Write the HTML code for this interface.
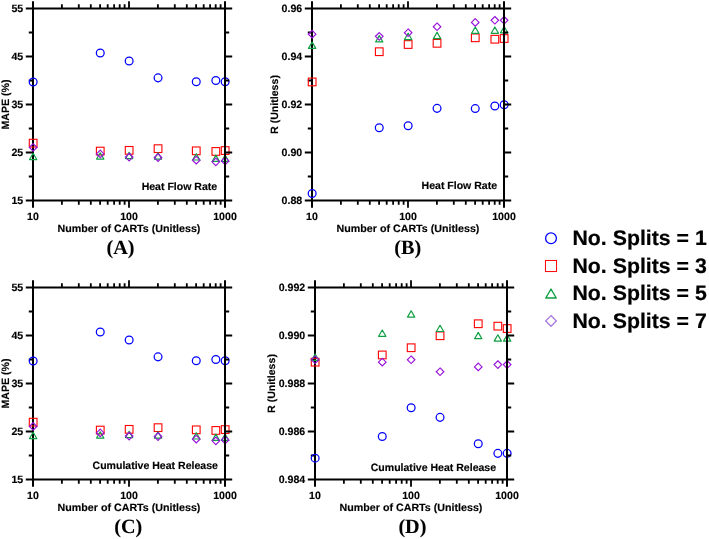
<!DOCTYPE html>
<html><head><meta charset="utf-8"><title>Figure</title>
<style>
html,body{margin:0;padding:0;background:#fff;}
svg{display:block;}
text{font-family:"Liberation Sans",sans-serif;font-weight:bold;fill:#000;text-rendering:geometricPrecision;}
.t{font-size:10.6px;stroke:#000;stroke-width:0.15px;}
.lg{font-size:21.1px;stroke:#000;stroke-width:0.2px;}
.pl{font-family:"Liberation Serif",serif;font-size:20.2px;stroke:#000;stroke-width:0.08px;}
.ax{stroke:#000;stroke-width:2;fill:none;stroke-linecap:butt;}
.tk{stroke:#000;stroke-width:1.8;fill:none;}
.m{fill:none;stroke-width:1.25;}
</style></head><body>
<svg width="709" height="539" viewBox="0 0 709 539">
<rect width="709" height="539" fill="#fff"/>
<path class="ax" d="M33 1.2999999999999998V207.7"/>
<path class="tk" d="M33 32.50h-4.2M33 56.50h-7.2M33 80.50h-4.2M33 104.50h-7.2M33 128.50h-4.2M33 152.50h-7.2M33 176.50h-4.2"/>
<circle class="m" cx="33.15" cy="81.95" r="3.90" stroke="#0000ff" style="stroke-width:1.25"/>
<circle class="m" cx="100.25" cy="53.05" r="3.90" stroke="#0000ff" style="stroke-width:1.25"/>
<circle class="m" cx="129.15" cy="61.07" r="3.90" stroke="#0000ff" style="stroke-width:1.25"/>
<circle class="m" cx="158.05" cy="77.87" r="3.90" stroke="#0000ff" style="stroke-width:1.25"/>
<circle class="m" cx="196.25" cy="81.71" r="3.90" stroke="#0000ff" style="stroke-width:1.25"/>
<circle class="m" cx="215.85" cy="80.56" r="3.90" stroke="#0000ff" style="stroke-width:1.25"/>
<circle class="m" cx="225.15" cy="81.71" r="3.90" stroke="#0000ff" style="stroke-width:1.25"/>
<rect class="m" x="29.30" y="139.30" width="7.70" height="7.70" stroke="#ff0000" style="stroke-width:1.1"/>
<rect class="m" x="96.40" y="147.22" width="7.70" height="7.70" stroke="#ff0000" style="stroke-width:1.1"/>
<rect class="m" x="125.30" y="146.50" width="7.70" height="7.70" stroke="#ff0000" style="stroke-width:1.1"/>
<rect class="m" x="154.20" y="144.82" width="7.70" height="7.70" stroke="#ff0000" style="stroke-width:1.1"/>
<rect class="m" x="192.40" y="146.98" width="7.70" height="7.70" stroke="#ff0000" style="stroke-width:1.1"/>
<rect class="m" x="212.00" y="147.60" width="7.70" height="7.70" stroke="#ff0000" style="stroke-width:1.1"/>
<rect class="m" x="221.30" y="146.74" width="7.70" height="7.70" stroke="#ff0000" style="stroke-width:1.1"/>
<path class="m" d="M33.15 153.24L36.80 159.54L29.50 159.54Z" stroke="#0f9f42" stroke-linejoin="round" style="stroke-width:1.2"/>
<path class="m" d="M100.25 152.76L103.90 159.06L96.60 159.06Z" stroke="#0f9f42" stroke-linejoin="round" style="stroke-width:1.2"/>
<path class="m" d="M129.15 152.28L132.80 158.58L125.50 158.58Z" stroke="#0f9f42" stroke-linejoin="round" style="stroke-width:1.2"/>
<path class="m" d="M158.05 152.76L161.70 159.06L154.40 159.06Z" stroke="#0f9f42" stroke-linejoin="round" style="stroke-width:1.2"/>
<path class="m" d="M196.25 153.72L199.90 160.02L192.60 160.02Z" stroke="#0f9f42" stroke-linejoin="round" style="stroke-width:1.2"/>
<path class="m" d="M215.85 155.16L219.50 161.46L212.20 161.46Z" stroke="#0f9f42" stroke-linejoin="round" style="stroke-width:1.2"/>
<path class="m" d="M225.15 155.16L228.80 161.46L221.50 161.46Z" stroke="#0f9f42" stroke-linejoin="round" style="stroke-width:1.2"/>
<path class="m" d="M33.15 143.68L36.94 147.47L33.15 151.26L29.36 147.47Z" stroke="#9710da" style="stroke-width:1.15"/>
<path class="m" d="M100.25 150.16L104.04 153.95L100.25 157.74L96.46 153.95Z" stroke="#9710da" style="stroke-width:1.15"/>
<path class="m" d="M129.15 153.28L132.94 157.07L129.15 160.86L125.36 157.07Z" stroke="#9710da" style="stroke-width:1.15"/>
<path class="m" d="M158.05 153.76L161.84 157.55L158.05 161.34L154.26 157.55Z" stroke="#9710da" style="stroke-width:1.15"/>
<path class="m" d="M196.25 156.40L200.04 160.19L196.25 163.98L192.46 160.19Z" stroke="#9710da" style="stroke-width:1.15"/>
<path class="m" d="M215.85 158.08L219.63 161.87L215.85 165.66L212.06 161.87Z" stroke="#9710da" style="stroke-width:1.15"/>
<path class="m" d="M225.15 157.12L228.94 160.91L225.15 164.70L221.36 160.91Z" stroke="#9710da" style="stroke-width:1.15"/>
<path class="ax" d="M225 1.2999999999999998V207.7M25.8 8.5H232.2M25.8 200.5H232.2"/>
<path class="tk" d="M61.90 8.5v-4.2M61.90 200.5v4.2M78.80 8.5v-4.2M78.80 200.5v4.2M90.80 8.5v-4.2M90.80 200.5v4.2M100.10 8.5v-4.2M100.10 200.5v4.2M107.70 8.5v-4.2M107.70 200.5v4.2M114.13 8.5v-4.2M114.13 200.5v4.2M119.70 8.5v-4.2M119.70 200.5v4.2M124.61 8.5v-4.2M124.61 200.5v4.2M157.90 8.5v-4.2M157.90 200.5v4.2M174.80 8.5v-4.2M174.80 200.5v4.2M186.80 8.5v-4.2M186.80 200.5v4.2M196.10 8.5v-4.2M196.10 200.5v4.2M203.70 8.5v-4.2M203.70 200.5v4.2M210.13 8.5v-4.2M210.13 200.5v4.2M215.70 8.5v-4.2M215.70 200.5v4.2M220.61 8.5v-4.2M220.61 200.5v4.2M129.00 8.5v-7.2M129.00 200.5v7.2M225 32.50h4.2M225 56.50h7.2M225 80.50h4.2M225 104.50h7.2M225 128.50h4.2M225 152.50h7.2M225 176.50h4.2"/>
<text class="t" transform="translate(23.20 12.20) scale(1.0 1)" text-anchor="end">55</text>
<text class="t" transform="translate(23.20 60.20) scale(1.0 1)" text-anchor="end">45</text>
<text class="t" transform="translate(23.20 108.20) scale(1.0 1)" text-anchor="end">35</text>
<text class="t" transform="translate(23.20 156.20) scale(1.0 1)" text-anchor="end">25</text>
<text class="t" transform="translate(23.20 204.20) scale(1.0 1)" text-anchor="end">15</text>
<text class="t" transform="translate(33.00 219.80) scale(1.0 1)" text-anchor="middle">10</text>
<text class="t" transform="translate(129.00 219.80) scale(1.0 1)" text-anchor="middle">100</text>
<text class="t" transform="translate(225.00 219.80) scale(1.0 1)" text-anchor="middle">1000</text>
<text class="t" transform="translate(129.00 232.05) scale(1.008 1)" text-anchor="middle">Number of CARTs (Unitless)</text>
<text class="t" transform="translate(8.50 104.50) rotate(-90) scale(1.0 1)" text-anchor="middle">MAPE (%)</text>
<text class="t" transform="translate(217.20 189.70) scale(0.995 1)" text-anchor="end">Heat Flow Rate</text>
<text class="pl" transform="translate(120.50 254.00) scale(1 1)" text-anchor="middle">(A)</text>
<path class="ax" d="M312 1.2999999999999998V207.7"/>
<path class="tk" d="M312 32.50h-4.2M312 56.50h-7.2M312 80.50h-4.2M312 104.50h-7.2M312 128.50h-4.2M312 152.50h-7.2M312 176.50h-4.2"/>
<circle class="m" cx="312.15" cy="193.55" r="3.90" stroke="#0000ff" style="stroke-width:1.25"/>
<circle class="m" cx="379.25" cy="127.79" r="3.90" stroke="#0000ff" style="stroke-width:1.25"/>
<circle class="m" cx="408.15" cy="125.75" r="3.90" stroke="#0000ff" style="stroke-width:1.25"/>
<circle class="m" cx="437.05" cy="108.35" r="3.90" stroke="#0000ff" style="stroke-width:1.25"/>
<circle class="m" cx="475.25" cy="108.59" r="3.90" stroke="#0000ff" style="stroke-width:1.25"/>
<circle class="m" cx="494.85" cy="105.95" r="3.90" stroke="#0000ff" style="stroke-width:1.25"/>
<circle class="m" cx="504.15" cy="104.75" r="3.90" stroke="#0000ff" style="stroke-width:1.25"/>
<rect class="m" x="308.30" y="78.10" width="7.70" height="7.70" stroke="#ff0000" style="stroke-width:1.1"/>
<rect class="m" x="375.40" y="47.86" width="7.70" height="7.70" stroke="#ff0000" style="stroke-width:1.1"/>
<rect class="m" x="404.30" y="40.66" width="7.70" height="7.70" stroke="#ff0000" style="stroke-width:1.1"/>
<rect class="m" x="433.20" y="39.46" width="7.70" height="7.70" stroke="#ff0000" style="stroke-width:1.1"/>
<rect class="m" x="471.40" y="33.94" width="7.70" height="7.70" stroke="#ff0000" style="stroke-width:1.1"/>
<rect class="m" x="491.00" y="35.38" width="7.70" height="7.70" stroke="#ff0000" style="stroke-width:1.1"/>
<rect class="m" x="500.30" y="34.66" width="7.70" height="7.70" stroke="#ff0000" style="stroke-width:1.1"/>
<path class="m" d="M312.15 42.12L315.80 48.42L308.50 48.42Z" stroke="#0f9f42" stroke-linejoin="round" style="stroke-width:1.2"/>
<path class="m" d="M379.25 35.64L382.90 41.94L375.60 41.94Z" stroke="#0f9f42" stroke-linejoin="round" style="stroke-width:1.2"/>
<path class="m" d="M408.15 33.24L411.80 39.54L404.50 39.54Z" stroke="#0f9f42" stroke-linejoin="round" style="stroke-width:1.2"/>
<path class="m" d="M437.05 32.28L440.70 38.58L433.40 38.58Z" stroke="#0f9f42" stroke-linejoin="round" style="stroke-width:1.2"/>
<path class="m" d="M475.25 27.00L478.90 33.30L471.60 33.30Z" stroke="#0f9f42" stroke-linejoin="round" style="stroke-width:1.2"/>
<path class="m" d="M494.85 27.00L498.50 33.30L491.20 33.30Z" stroke="#0f9f42" stroke-linejoin="round" style="stroke-width:1.2"/>
<path class="m" d="M504.15 26.52L507.80 32.82L500.50 32.82Z" stroke="#0f9f42" stroke-linejoin="round" style="stroke-width:1.2"/>
<path class="m" d="M312.15 30.40L315.94 34.19L312.15 37.98L308.36 34.19Z" stroke="#9710da" style="stroke-width:1.15"/>
<path class="m" d="M379.25 32.56L383.04 36.35L379.25 40.14L375.46 36.35Z" stroke="#9710da" style="stroke-width:1.15"/>
<path class="m" d="M408.15 28.96L411.94 32.75L408.15 36.54L404.36 32.75Z" stroke="#9710da" style="stroke-width:1.15"/>
<path class="m" d="M437.05 22.96L440.84 26.75L437.05 30.54L433.26 26.75Z" stroke="#9710da" style="stroke-width:1.15"/>
<path class="m" d="M475.25 18.64L479.04 22.43L475.25 26.22L471.46 22.43Z" stroke="#9710da" style="stroke-width:1.15"/>
<path class="m" d="M494.85 16.48L498.63 20.27L494.85 24.06L491.06 20.27Z" stroke="#9710da" style="stroke-width:1.15"/>
<path class="m" d="M504.15 16.48L507.94 20.27L504.15 24.06L500.36 20.27Z" stroke="#9710da" style="stroke-width:1.15"/>
<path class="ax" d="M504 1.2999999999999998V207.7M304.8 8.5H511.2M304.8 200.5H511.2"/>
<path class="tk" d="M340.90 8.5v-4.2M340.90 200.5v4.2M357.80 8.5v-4.2M357.80 200.5v4.2M369.80 8.5v-4.2M369.80 200.5v4.2M379.10 8.5v-4.2M379.10 200.5v4.2M386.70 8.5v-4.2M386.70 200.5v4.2M393.13 8.5v-4.2M393.13 200.5v4.2M398.70 8.5v-4.2M398.70 200.5v4.2M403.61 8.5v-4.2M403.61 200.5v4.2M436.90 8.5v-4.2M436.90 200.5v4.2M453.80 8.5v-4.2M453.80 200.5v4.2M465.80 8.5v-4.2M465.80 200.5v4.2M475.10 8.5v-4.2M475.10 200.5v4.2M482.70 8.5v-4.2M482.70 200.5v4.2M489.13 8.5v-4.2M489.13 200.5v4.2M494.70 8.5v-4.2M494.70 200.5v4.2M499.61 8.5v-4.2M499.61 200.5v4.2M408.00 8.5v-7.2M408.00 200.5v7.2M504 32.50h4.2M504 56.50h7.2M504 80.50h4.2M504 104.50h7.2M504 128.50h4.2M504 152.50h7.2M504 176.50h4.2"/>
<text class="t" transform="translate(302.20 12.20) scale(1.0 1)" text-anchor="end">0.96</text>
<text class="t" transform="translate(302.20 60.20) scale(1.0 1)" text-anchor="end">0.94</text>
<text class="t" transform="translate(302.20 108.20) scale(1.0 1)" text-anchor="end">0.92</text>
<text class="t" transform="translate(302.20 156.20) scale(1.0 1)" text-anchor="end">0.90</text>
<text class="t" transform="translate(302.20 204.20) scale(1.0 1)" text-anchor="end">0.88</text>
<text class="t" transform="translate(312.00 219.80) scale(1.0 1)" text-anchor="middle">10</text>
<text class="t" transform="translate(408.00 219.80) scale(1.0 1)" text-anchor="middle">100</text>
<text class="t" transform="translate(504.00 219.80) scale(1.0 1)" text-anchor="middle">1000</text>
<text class="t" transform="translate(408.00 232.05) scale(1.008 1)" text-anchor="middle">Number of CARTs (Unitless)</text>
<text class="t" transform="translate(277.60 104.50) rotate(-90) scale(1.0 1)" text-anchor="middle">R (Unitless)</text>
<text class="t" transform="translate(497.10 188.90) scale(0.995 1)" text-anchor="end">Heat Flow Rate</text>
<text class="pl" transform="translate(407.80 254.00) scale(1 1)" text-anchor="middle">(B)</text>
<path class="ax" d="M33 280.3V486.7"/>
<path class="tk" d="M33 311.50h-4.2M33 335.50h-7.2M33 359.50h-4.2M33 383.50h-7.2M33 407.50h-4.2M33 431.50h-7.2M33 455.50h-4.2"/>
<circle class="m" cx="33.15" cy="360.95" r="3.90" stroke="#0000ff" style="stroke-width:1.25"/>
<circle class="m" cx="100.25" cy="332.05" r="3.90" stroke="#0000ff" style="stroke-width:1.25"/>
<circle class="m" cx="129.15" cy="340.07" r="3.90" stroke="#0000ff" style="stroke-width:1.25"/>
<circle class="m" cx="158.05" cy="356.87" r="3.90" stroke="#0000ff" style="stroke-width:1.25"/>
<circle class="m" cx="196.25" cy="360.71" r="3.90" stroke="#0000ff" style="stroke-width:1.25"/>
<circle class="m" cx="215.85" cy="359.56" r="3.90" stroke="#0000ff" style="stroke-width:1.25"/>
<circle class="m" cx="225.15" cy="360.71" r="3.90" stroke="#0000ff" style="stroke-width:1.25"/>
<rect class="m" x="29.30" y="418.30" width="7.70" height="7.70" stroke="#ff0000" style="stroke-width:1.1"/>
<rect class="m" x="96.40" y="426.22" width="7.70" height="7.70" stroke="#ff0000" style="stroke-width:1.1"/>
<rect class="m" x="125.30" y="425.50" width="7.70" height="7.70" stroke="#ff0000" style="stroke-width:1.1"/>
<rect class="m" x="154.20" y="423.82" width="7.70" height="7.70" stroke="#ff0000" style="stroke-width:1.1"/>
<rect class="m" x="192.40" y="425.98" width="7.70" height="7.70" stroke="#ff0000" style="stroke-width:1.1"/>
<rect class="m" x="212.00" y="426.60" width="7.70" height="7.70" stroke="#ff0000" style="stroke-width:1.1"/>
<rect class="m" x="221.30" y="425.74" width="7.70" height="7.70" stroke="#ff0000" style="stroke-width:1.1"/>
<path class="m" d="M33.15 432.24L36.80 438.54L29.50 438.54Z" stroke="#0f9f42" stroke-linejoin="round" style="stroke-width:1.2"/>
<path class="m" d="M100.25 431.76L103.90 438.06L96.60 438.06Z" stroke="#0f9f42" stroke-linejoin="round" style="stroke-width:1.2"/>
<path class="m" d="M129.15 431.28L132.80 437.58L125.50 437.58Z" stroke="#0f9f42" stroke-linejoin="round" style="stroke-width:1.2"/>
<path class="m" d="M158.05 431.76L161.70 438.06L154.40 438.06Z" stroke="#0f9f42" stroke-linejoin="round" style="stroke-width:1.2"/>
<path class="m" d="M196.25 432.72L199.90 439.02L192.60 439.02Z" stroke="#0f9f42" stroke-linejoin="round" style="stroke-width:1.2"/>
<path class="m" d="M215.85 434.16L219.50 440.46L212.20 440.46Z" stroke="#0f9f42" stroke-linejoin="round" style="stroke-width:1.2"/>
<path class="m" d="M225.15 434.16L228.80 440.46L221.50 440.46Z" stroke="#0f9f42" stroke-linejoin="round" style="stroke-width:1.2"/>
<path class="m" d="M33.15 422.68L36.94 426.47L33.15 430.26L29.36 426.47Z" stroke="#9710da" style="stroke-width:1.15"/>
<path class="m" d="M100.25 429.16L104.04 432.95L100.25 436.74L96.46 432.95Z" stroke="#9710da" style="stroke-width:1.15"/>
<path class="m" d="M129.15 432.28L132.94 436.07L129.15 439.86L125.36 436.07Z" stroke="#9710da" style="stroke-width:1.15"/>
<path class="m" d="M158.05 432.76L161.84 436.55L158.05 440.34L154.26 436.55Z" stroke="#9710da" style="stroke-width:1.15"/>
<path class="m" d="M196.25 435.40L200.04 439.19L196.25 442.98L192.46 439.19Z" stroke="#9710da" style="stroke-width:1.15"/>
<path class="m" d="M215.85 437.08L219.63 440.87L215.85 444.66L212.06 440.87Z" stroke="#9710da" style="stroke-width:1.15"/>
<path class="m" d="M225.15 436.12L228.94 439.91L225.15 443.70L221.36 439.91Z" stroke="#9710da" style="stroke-width:1.15"/>
<path class="ax" d="M225 280.3V486.7M25.8 287.5H232.2M25.8 479.5H232.2"/>
<path class="tk" d="M61.90 287.5v-4.2M61.90 479.5v4.2M78.80 287.5v-4.2M78.80 479.5v4.2M90.80 287.5v-4.2M90.80 479.5v4.2M100.10 287.5v-4.2M100.10 479.5v4.2M107.70 287.5v-4.2M107.70 479.5v4.2M114.13 287.5v-4.2M114.13 479.5v4.2M119.70 287.5v-4.2M119.70 479.5v4.2M124.61 287.5v-4.2M124.61 479.5v4.2M157.90 287.5v-4.2M157.90 479.5v4.2M174.80 287.5v-4.2M174.80 479.5v4.2M186.80 287.5v-4.2M186.80 479.5v4.2M196.10 287.5v-4.2M196.10 479.5v4.2M203.70 287.5v-4.2M203.70 479.5v4.2M210.13 287.5v-4.2M210.13 479.5v4.2M215.70 287.5v-4.2M215.70 479.5v4.2M220.61 287.5v-4.2M220.61 479.5v4.2M129.00 287.5v-7.2M129.00 479.5v7.2M225 311.50h4.2M225 335.50h7.2M225 359.50h4.2M225 383.50h7.2M225 407.50h4.2M225 431.50h7.2M225 455.50h4.2"/>
<text class="t" transform="translate(23.20 291.20) scale(1.0 1)" text-anchor="end">55</text>
<text class="t" transform="translate(23.20 339.20) scale(1.0 1)" text-anchor="end">45</text>
<text class="t" transform="translate(23.20 387.20) scale(1.0 1)" text-anchor="end">35</text>
<text class="t" transform="translate(23.20 435.20) scale(1.0 1)" text-anchor="end">25</text>
<text class="t" transform="translate(23.20 483.20) scale(1.0 1)" text-anchor="end">15</text>
<text class="t" transform="translate(33.00 498.80) scale(1.0 1)" text-anchor="middle">10</text>
<text class="t" transform="translate(129.00 498.80) scale(1.0 1)" text-anchor="middle">100</text>
<text class="t" transform="translate(225.00 498.80) scale(1.0 1)" text-anchor="middle">1000</text>
<text class="t" transform="translate(129.00 511.05) scale(1.008 1)" text-anchor="middle">Number of CARTs (Unitless)</text>
<text class="t" transform="translate(8.50 383.50) rotate(-90) scale(1.0 1)" text-anchor="middle">MAPE (%)</text>
<text class="t" transform="translate(217.90 468.70) scale(0.995 1)" text-anchor="end">Cumulative Heat Release</text>
<text class="pl" transform="translate(128.30 533.00) scale(1 1)" text-anchor="middle">(C)</text>
<path class="ax" d="M315 280.3V486.7"/>
<path class="tk" d="M315 311.50h-4.2M315 335.50h-7.2M315 359.50h-4.2M315 383.50h-7.2M315 407.50h-4.2M315 431.50h-7.2M315 455.50h-4.2"/>
<circle class="m" cx="315.15" cy="458.15" r="3.90" stroke="#0000ff" style="stroke-width:1.25"/>
<circle class="m" cx="382.25" cy="436.55" r="3.90" stroke="#0000ff" style="stroke-width:1.25"/>
<circle class="m" cx="411.15" cy="407.75" r="3.90" stroke="#0000ff" style="stroke-width:1.25"/>
<circle class="m" cx="440.05" cy="417.35" r="3.90" stroke="#0000ff" style="stroke-width:1.25"/>
<circle class="m" cx="478.25" cy="443.75" r="3.90" stroke="#0000ff" style="stroke-width:1.25"/>
<circle class="m" cx="497.85" cy="453.35" r="3.90" stroke="#0000ff" style="stroke-width:1.25"/>
<circle class="m" cx="507.15" cy="453.35" r="3.90" stroke="#0000ff" style="stroke-width:1.25"/>
<rect class="m" x="311.30" y="358.30" width="7.70" height="7.70" stroke="#ff0000" style="stroke-width:1.1"/>
<rect class="m" x="378.40" y="351.10" width="7.70" height="7.70" stroke="#ff0000" style="stroke-width:1.1"/>
<rect class="m" x="407.30" y="343.90" width="7.70" height="7.70" stroke="#ff0000" style="stroke-width:1.1"/>
<rect class="m" x="436.20" y="331.90" width="7.70" height="7.70" stroke="#ff0000" style="stroke-width:1.1"/>
<rect class="m" x="474.40" y="319.90" width="7.70" height="7.70" stroke="#ff0000" style="stroke-width:1.1"/>
<rect class="m" x="494.00" y="322.30" width="7.70" height="7.70" stroke="#ff0000" style="stroke-width:1.1"/>
<rect class="m" x="503.30" y="324.70" width="7.70" height="7.70" stroke="#ff0000" style="stroke-width:1.1"/>
<path class="m" d="M315.15 354.00L318.80 360.30L311.50 360.30Z" stroke="#0f9f42" stroke-linejoin="round" style="stroke-width:1.2"/>
<path class="m" d="M382.25 330.00L385.90 336.30L378.60 336.30Z" stroke="#0f9f42" stroke-linejoin="round" style="stroke-width:1.2"/>
<path class="m" d="M411.15 310.80L414.80 317.10L407.50 317.10Z" stroke="#0f9f42" stroke-linejoin="round" style="stroke-width:1.2"/>
<path class="m" d="M440.05 325.20L443.70 331.50L436.40 331.50Z" stroke="#0f9f42" stroke-linejoin="round" style="stroke-width:1.2"/>
<path class="m" d="M478.25 332.40L481.90 338.70L474.60 338.70Z" stroke="#0f9f42" stroke-linejoin="round" style="stroke-width:1.2"/>
<path class="m" d="M497.85 334.80L501.50 341.10L494.20 341.10Z" stroke="#0f9f42" stroke-linejoin="round" style="stroke-width:1.2"/>
<path class="m" d="M507.15 334.80L510.80 341.10L503.50 341.10Z" stroke="#0f9f42" stroke-linejoin="round" style="stroke-width:1.2"/>
<path class="m" d="M315.15 355.96L318.94 359.75L315.15 363.54L311.36 359.75Z" stroke="#9710da" style="stroke-width:1.15"/>
<path class="m" d="M382.25 358.36L386.04 362.15L382.25 365.94L378.46 362.15Z" stroke="#9710da" style="stroke-width:1.15"/>
<path class="m" d="M411.15 355.96L414.94 359.75L411.15 363.54L407.36 359.75Z" stroke="#9710da" style="stroke-width:1.15"/>
<path class="m" d="M440.05 367.96L443.84 371.75L440.05 375.54L436.26 371.75Z" stroke="#9710da" style="stroke-width:1.15"/>
<path class="m" d="M478.25 363.16L482.04 366.95L478.25 370.74L474.46 366.95Z" stroke="#9710da" style="stroke-width:1.15"/>
<path class="m" d="M497.85 360.76L501.63 364.55L497.85 368.34L494.06 364.55Z" stroke="#9710da" style="stroke-width:1.15"/>
<path class="m" d="M507.15 360.76L510.94 364.55L507.15 368.34L503.36 364.55Z" stroke="#9710da" style="stroke-width:1.15"/>
<path class="ax" d="M507 280.3V486.7M307.8 287.5H514.2M307.8 479.5H514.2"/>
<path class="tk" d="M343.90 287.5v-4.2M343.90 479.5v4.2M360.80 287.5v-4.2M360.80 479.5v4.2M372.80 287.5v-4.2M372.80 479.5v4.2M382.10 287.5v-4.2M382.10 479.5v4.2M389.70 287.5v-4.2M389.70 479.5v4.2M396.13 287.5v-4.2M396.13 479.5v4.2M401.70 287.5v-4.2M401.70 479.5v4.2M406.61 287.5v-4.2M406.61 479.5v4.2M439.90 287.5v-4.2M439.90 479.5v4.2M456.80 287.5v-4.2M456.80 479.5v4.2M468.80 287.5v-4.2M468.80 479.5v4.2M478.10 287.5v-4.2M478.10 479.5v4.2M485.70 287.5v-4.2M485.70 479.5v4.2M492.13 287.5v-4.2M492.13 479.5v4.2M497.70 287.5v-4.2M497.70 479.5v4.2M502.61 287.5v-4.2M502.61 479.5v4.2M411.00 287.5v-7.2M411.00 479.5v7.2M507 311.50h4.2M507 335.50h7.2M507 359.50h4.2M507 383.50h7.2M507 407.50h4.2M507 431.50h7.2M507 455.50h4.2"/>
<text class="t" transform="translate(305.20 291.20) scale(1.0 1)" text-anchor="end">0.992</text>
<text class="t" transform="translate(305.20 339.20) scale(1.0 1)" text-anchor="end">0.990</text>
<text class="t" transform="translate(305.20 387.20) scale(1.0 1)" text-anchor="end">0.988</text>
<text class="t" transform="translate(305.20 435.20) scale(1.0 1)" text-anchor="end">0.986</text>
<text class="t" transform="translate(305.20 483.20) scale(1.0 1)" text-anchor="end">0.984</text>
<text class="t" transform="translate(315.00 498.80) scale(1.0 1)" text-anchor="middle">10</text>
<text class="t" transform="translate(411.00 498.80) scale(1.0 1)" text-anchor="middle">100</text>
<text class="t" transform="translate(507.00 498.80) scale(1.0 1)" text-anchor="middle">1000</text>
<text class="t" transform="translate(411.00 511.05) scale(1.008 1)" text-anchor="middle">Number of CARTs (Unitless)</text>
<text class="t" transform="translate(274.60 383.50) rotate(-90) scale(1.0 1)" text-anchor="middle">R (Unitless)</text>
<text class="t" transform="translate(496.10 471.20) scale(0.995 1)" text-anchor="end">Cumulative Heat Release</text>
<text class="pl" transform="translate(412.40 533.00) scale(1 1)" text-anchor="middle">(D)</text>
<circle class="m" cx="551.00" cy="238.30" r="5.40" stroke="#0000ff" style="stroke-width:1.3"/>
<text class="lg" transform="translate(572.50 244.85) scale(1.009 1)">No. Splits = 1</text>
<rect class="m" x="545.45" y="260.45" width="11.10" height="11.10" stroke="#ff0000" style="stroke-width:1.0"/>
<text class="lg" transform="translate(572.50 272.50) scale(1.009 1)">No. Splits = 3</text>
<path class="m" d="M551.00 289.01L556.22 297.98L545.78 297.98Z" stroke="#0f9f42" stroke-linejoin="round" style="stroke-width:1.4"/>
<text class="lg" transform="translate(572.50 300.15) scale(1.009 1)">No. Splits = 5</text>
<path class="m" d="M551.00 315.60L556.30 320.90L551.00 326.20L545.70 320.90Z" stroke="#a87ce2" style="stroke-width:1.35"/>
<text class="lg" transform="translate(572.50 327.80) scale(1.009 1)">No. Splits = 7</text>
</svg></body></html>
